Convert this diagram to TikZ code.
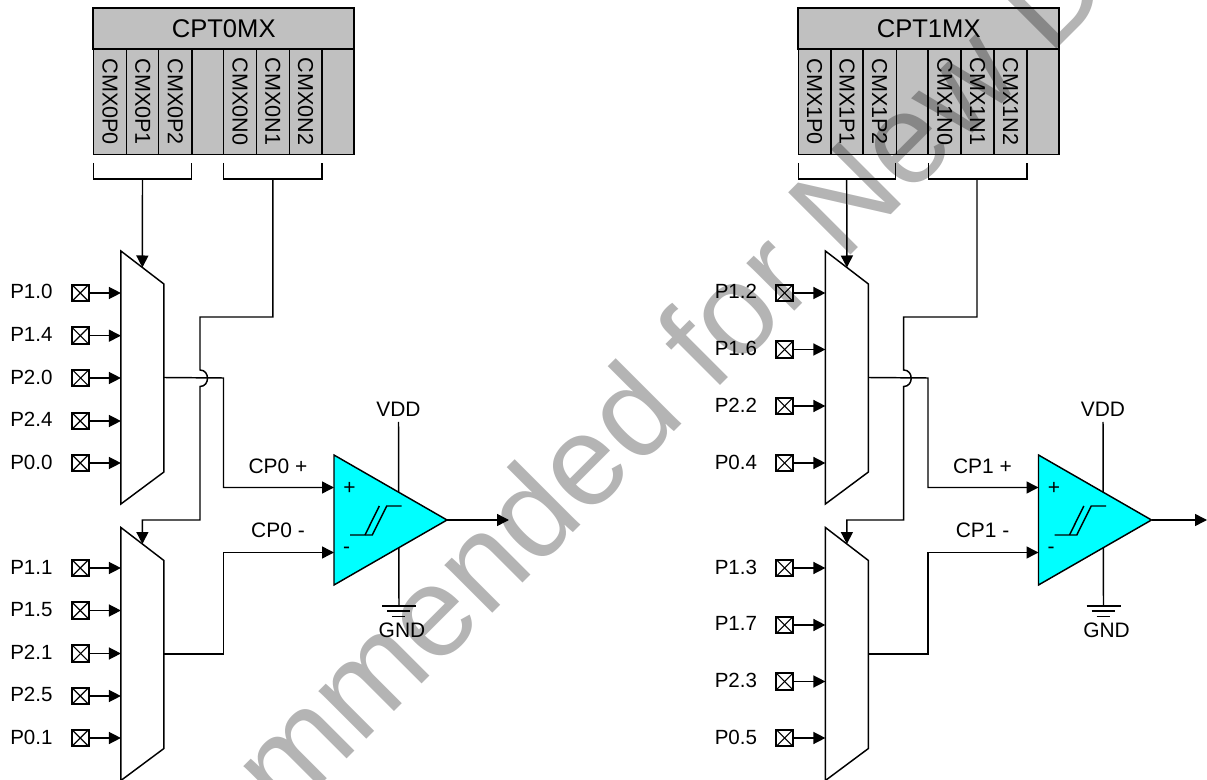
\documentclass[tikz,border=0pt]{standalone}
\usepackage{fontspec}
\setmainfont{Liberation Sans}
\usetikzlibrary{calc, shapes.geometric, arrows.meta}
\tikzset{
    wire/.style={line width=1.1pt, -{Triangle[length=9pt,width=9pt]}},
    plainwire/.style={line width=1.1pt},
    regcell/.style={draw, line width=1.1pt, fill=regfill, minimum width=79.1pt, inner sep=0pt, rotate=-90, font=\fontsize{16.2}{18}\selectfont},
    regtitle/.style={draw, line width=1.1pt, fill=regfill, minimum width=195.75pt, minimum height=30.75pt, inner sep=0pt, font=\fontsize{19.2}{22}\selectfont},
    pinbox/.style={draw, line width=1.3pt, minimum size=12.5pt, inner sep=0pt, path picture={
        \draw[line width=0.9pt] (path picture bounding box.north west) -- (path picture bounding box.south east);
        \draw[line width=0.9pt] (path picture bounding box.south west) -- (path picture bounding box.north east);}},
    pinlabel/.style={anchor=west, inner sep=0pt, font=\fontsize{15.4}{18}\selectfont},
    siglabel/.style={inner sep=0pt, font=\fontsize{15.7}{18}\selectfont},
    muxbox/.style={minimum width=32.25pt, minimum height=189.75pt, inner sep=0pt, outer sep=0pt},
    muxedge/.style={draw, line width=1.1pt, fill=white},
    compbox/.style={draw, line width=1.1pt, fill=compfill, isosceles triangle, isosceles triangle apex angle=59.8, minimum height=84.75pt, inner sep=0pt, outer sep=0pt, anchor=lower side},
}
\definecolor{regfill}{HTML}{C0C0C0}
\definecolor{compfill}{HTML}{00FFFF}
\definecolor{markgray}{HTML}{B4B4B4}

\begin{document}
\begin{tikzpicture}[x=0.75pt, y=-0.75pt]
    \clip (0,0) rectangle (1207,780);

    % left register
    \node[regtitle] (cpt0) at (223.7,28.5) {CPT0MX};
    \node[regcell, minimum height=24.4pt] (c0p0) at (110,101.8) {CMX0P0};
    \node[regcell, minimum height=24pt] (c0p1) at (142.7,101.8) {CMX0P1};
    \node[regcell, minimum height=25pt] (c0p2) at (175.3,101.8) {CMX0P2};
    \node[regcell, minimum height=23.8pt] (c0e0) at (207.8,101.8) {};
    \node[regcell, minimum height=24.4pt] (c0n0) at (240,101.8) {CMX0N0};
    \node[regcell, minimum height=24.8pt] (c0n1) at (272.8,101.8) {CMX0N1};
    \node[regcell, minimum height=24.5pt] (c0n2) at (305.6,101.8) {CMX0N2};
    \node[regcell, minimum height=24pt] (c0e1) at (338,101.8) {};

    % left brackets
    \coordinate (bp0) at (142.5,179);
    \coordinate (bn0) at (272.8,179);
    \draw[plainwire] (93.3,163) -- (93.3,179) -- (191.7,179) -- (191.7,163);
    \draw[plainwire] (223.7,163) -- (223.7,179) -- (322,179) -- (322,163);

    % left muxes
    \node[muxbox] (mux0p) at (142.4,377.5) {};
    \node[muxbox] (mux0n) at (142.4,654) {};
    \path[muxedge] (mux0p.north west) -- ($(mux0p.north east)+(0,33)$) -- ($(mux0p.south east)+(0,-32)$) -- (mux0p.south west) -- cycle;
    \path[muxedge] (mux0n.north west) -- ($(mux0n.north east)+(0,33)$) -- ($(mux0n.south east)+(0,-32)$) -- (mux0n.south west) -- cycle;
    \coordinate (sel0p) at ($(mux0p.north)+(0,16.5)$);
    \coordinate (sel0n) at ($(mux0n.north)+(0,16.5)$);
    \draw[wire] (bp0) -- (sel0p);
    \draw[wire] (bn0) |- (200,317) -- (200,370) .. controls (210,370) and (210,386.5) .. (200,386.5) -- (200,520) -| (sel0n);

    % left pins
    \node[pinbox] (p10) at (80.3,293) {};
    \node[pinbox] (p14) at (80.3,335.7) {};
    \node[pinbox] (p20) at (80.6,378) {};
    \node[pinbox] (p24) at (80.3,421) {};
    \node[pinbox] (p00) at (80.3,463) {};
    \node[pinbox] (p11) at (80.3,568) {};
    \node[pinbox] (p15) at (80.3,610.5) {};
    \node[pinbox] (p21) at (80.6,653.5) {};
    \node[pinbox] (p25) at (80.3,696) {};
    \node[pinbox] (p01) at (80.3,738) {};
    \node[pinlabel] (l10) at (10,291.7) {P1.0};
    \node[pinlabel] (l14) at (10,334) {P1.4};
    \node[pinlabel] (l20) at (10,377) {P2.0};
    \node[pinlabel] (l24) at (10,419.5) {P2.4};
    \node[pinlabel] (l00) at (10,462) {P0.0};
    \node[pinlabel] (l11) at (10,567) {P1.1};
    \node[pinlabel] (l15) at (10,609.5) {P1.5};
    \node[pinlabel] (l21) at (10,652) {P2.1};
    \node[pinlabel] (l25) at (10,694.5) {P2.5};
    \node[pinlabel] (l01) at (10,737) {P0.1};
    \draw[wire] (p10) -- (p10 -| mux0p.west);
    \draw[wire] (p14) -- (p14 -| mux0p.west);
    \draw[wire] (p20) -- (p20 -| mux0p.west);
    \draw[wire] (p24) -- (p24 -| mux0p.west);
    \draw[wire] (p00) -- (p00 -| mux0p.west);
    \draw[wire] (p11) -- (p11 -| mux0n.west);
    \draw[wire] (p15) -- (p15 -| mux0n.west);
    \draw[wire] (p21) -- (p21 -| mux0n.west);
    \draw[wire] (p25) -- (p25 -| mux0n.west);
    \draw[wire] (p01) -- (p01 -| mux0n.west);

    % left comparator
    \node[siglabel] (vdd0) at (398.5,409) {VDD};
    \node[siglabel] (gnd0) at (402,630) {GND};
    \coordinate (gr0) at (399,606);
    \draw[plainwire] (vdd0.south |- 0,422) -- (gr0);
    \draw[plainwire] (382,606) -- (416,606);
    \draw[plainwire] (387,611) -- (410,611);
    \draw[plainwire] (392,616.5) -- (405,616.5);
    \node[compbox] (cmp0) at (334,520) {};
    \coordinate (cp0in) at (334,487.5);
    \coordinate (cn0in) at (334,552.5);
    \draw[wire] (mux0p.east) -- (223.5,378) |- (cp0in);
    \draw[wire] (mux0n.east) -- (223.5,654) |- (cn0in);
    \draw[wire] (cmp0.apex) -- (509,520);
    \node[siglabel] (cp0p) at (278,466) {CP0 +};
    \node[siglabel] (cp0n) at (278,530) {CP0 -};
    \node[siglabel] (plus0) at (349.5,488) {+};
    \node[siglabel] (minus0) at (346.5,550) {-};
    \draw[plainwire] (350,535) -- (372.3,535) -- (386.7,506) -- (401.7,506);
    \draw[plainwire] (365,535) -- (379.3,506);

    % right register
    \node[regtitle] (cpt1) at (928.7,28.5) {CPT1MX};
    \node[regcell, minimum height=24.4pt] (c1p0) at (814.5,101.8) {CMX1P0};
    \node[regcell, minimum height=24pt] (c1p1) at (847,101.8) {CMX1P1};
    \node[regcell, minimum height=25pt] (c1p2) at (879.6,101.8) {CMX1P2};
    \node[regcell, minimum height=23.8pt] (c1e0) at (912.2,101.8) {};
    \node[regcell, minimum height=24.4pt] (c1n0) at (944.8,101.8) {CMX1N0};
    \node[regcell, minimum height=24.8pt] (c1n1) at (977.5,101.8) {CMX1N1};
    \node[regcell, minimum height=24.5pt] (c1n2) at (1010.5,101.8) {CMX1N2};
    \node[regcell, minimum height=24pt] (c1e1) at (1043,101.8) {};

    % right brackets
    \coordinate (bp1) at (846.7,179);
    \coordinate (bn1) at (977,179);
    \draw[plainwire] (798.3,163) -- (798.3,179) -- (895.7,179) -- (895.7,163);
    \draw[plainwire] (928.7,163) -- (928.7,179) -- (1027,179) -- (1027,163);

    % right muxes
    \node[muxbox] (mux1p) at (846.9,377.5) {};
    \node[muxbox] (mux1n) at (846.9,654) {};
    \path[muxedge] (mux1p.north west) -- ($(mux1p.north east)+(0,33)$) -- ($(mux1p.south east)+(0,-32)$) -- (mux1p.south west) -- cycle;
    \path[muxedge] (mux1n.north west) -- ($(mux1n.north east)+(0,33)$) -- ($(mux1n.south east)+(0,-32)$) -- (mux1n.south west) -- cycle;
    \coordinate (sel1p) at ($(mux1p.north)+(0,16.5)$);
    \coordinate (sel1n) at ($(mux1n.north)+(0,16.5)$);
    \draw[wire] (bp1) -- (sel1p);
    \draw[wire] (bn1) |- (903.7,317) -- (903.7,370) .. controls (913.7,370) and (913.7,386.5) .. (903.7,386.5) -- (903.7,520) -| (sel1n);

    % right pins
    \node[pinbox] (p12) at (784.6,293) {};
    \node[pinbox] (p16) at (784.6,349.5) {};
    \node[pinbox] (p22) at (784.6,406) {};
    \node[pinbox] (p04) at (784.6,463) {};
    \node[pinbox] (p13) at (784.6,568) {};
    \node[pinbox] (p17) at (784.6,625) {};
    \node[pinbox] (p23) at (784.6,681.5) {};
    \node[pinbox] (p05) at (784.6,738) {};
    \node[pinlabel] (l12) at (714.5,291.7) {P1.2};
    \node[pinlabel] (l16) at (714.5,348) {P1.6};
    \node[pinlabel] (l22) at (714.5,405) {P2.2};
    \node[pinlabel] (l04) at (714.5,462) {P0.4};
    \node[pinlabel] (l13) at (714.5,567) {P1.3};
    \node[pinlabel] (l17) at (714.5,623.5) {P1.7};
    \node[pinlabel] (l23) at (714.5,680) {P2.3};
    \node[pinlabel] (l05) at (714.5,737) {P0.5};
    \draw[wire] (p12) -- (p12 -| mux1p.west);
    \draw[wire] (p16) -- (p16 -| mux1p.west);
    \draw[wire] (p22) -- (p22 -| mux1p.west);
    \draw[wire] (p04) -- (p04 -| mux1p.west);
    \draw[wire] (p13) -- (p13 -| mux1n.west);
    \draw[wire] (p17) -- (p17 -| mux1n.west);
    \draw[wire] (p23) -- (p23 -| mux1n.west);
    \draw[wire] (p05) -- (p05 -| mux1n.west);

    % right comparator
    \node[siglabel] (vdd1) at (1103,409) {VDD};
    \node[siglabel] (gnd1) at (1106.5,630) {GND};
    \coordinate (gr1) at (1103.5,606);
    \draw[plainwire] (vdd1.south |- 0,422) -- (gr1);
    \draw[plainwire] (1086.5,606) -- (1120.5,606);
    \draw[plainwire] (1091.5,611) -- (1114.5,611);
    \draw[plainwire] (1096.5,616.5) -- (1109.5,616.5);
    \node[compbox] (cmp1) at (1038.5,520) {};
    \coordinate (cp1in) at (1038.5,487.5);
    \coordinate (cn1in) at (1038.5,552.5);
    \draw[wire] (mux1p.east) -- (928,378) |- (cp1in);
    \draw[wire] (mux1n.east) -- (928,654) |- (cn1in);
    \draw[wire] (cmp1.apex) -- (1207,520);
    \node[siglabel] (cp1p) at (982.5,466) {CP1 +};
    \node[siglabel] (cp1n) at (982.5,530) {CP1 -};
    \node[siglabel] (plus1) at (1054,488) {+};
    \node[siglabel] (minus1) at (1051,550) {-};
    \draw[plainwire] (1054.5,535) -- (1076.8,535) -- (1091.2,506) -- (1106.2,506);
    \draw[plainwire] (1069.5,535) -- (1083.8,506);

    % watermark
    \begin{scope}[blend mode=multiply]
        \node[text=markgray, rotate=45, anchor=base west, inner sep=0pt, font=\fontsize{96}{110}\selectfont] (mark) at (285,821) {mmended for New D};
    \end{scope}
\end{tikzpicture}
\end{document}
